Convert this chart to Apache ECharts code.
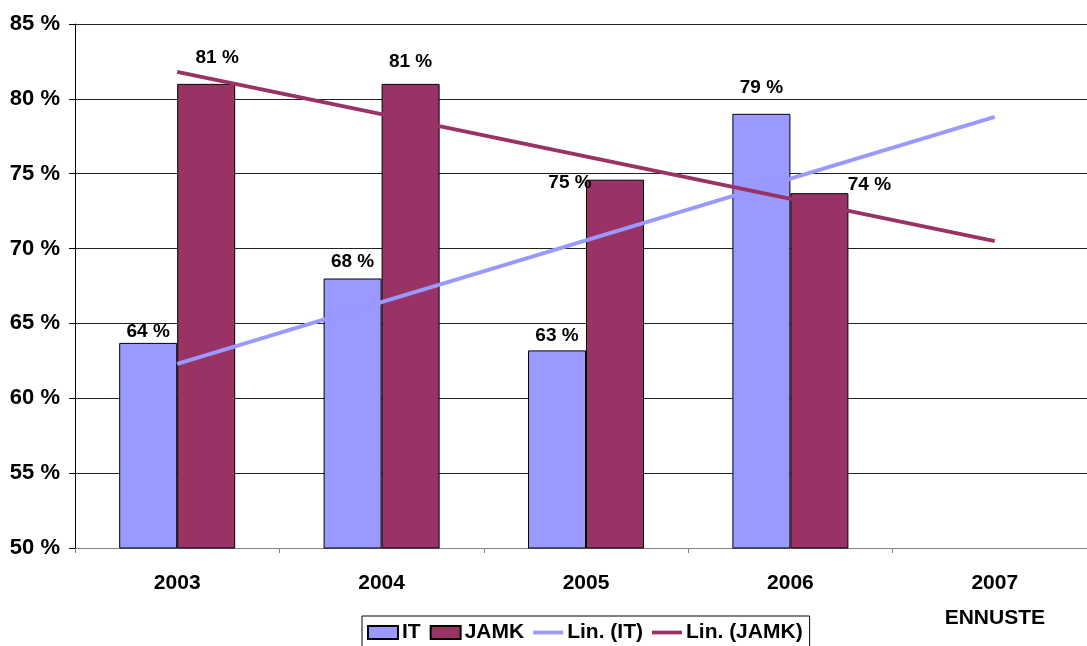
<!DOCTYPE html>
<html>
<head>
<meta charset="utf-8">
<script src="https://cdn.jsdelivr.net/npm/echarts@6/dist/echarts.min.js"></script>
<style>
html,body{margin:0;padding:0;background:#fff;overflow:hidden;width:1087px;height:646px;}
#chart{width:1100px;height:646px;}
</style>
</head>
<body>
<div id="chart"></div>
<script>
const categories = ['2003', '2004', '2005', '2006', '2007\nENNUSTE'];
const itValues = [63.7, 68.0, 63.2, 79.0, null];
const jamkValues = [81.0, 81.0, 74.6, 73.7, null];
const itTrend = [62.3, null, null, null, 78.8];
const jamkTrend = [81.8, null, null, null, 70.5];
const yTicks = { min: 50, max: 85, interval: 5 };

// label placement tweaks (style, not data)
const itLabelOffsets = [[0, 0], [0, -5], [0, -3], [0, -15], [0, 0]];
const jamkLabelOffsets = [[11, -15], [0, -11], [-45, 15], [50, 3], [0, 0]];

const FONT = "'Liberation Sans', Arial, sans-serif";
const IT_COLOR = '#9999FF';
const JAMK_COLOR = '#993366';

function barData(values, offsets) {
  return values.map((v, i) => ({
    value: v,
    label: { offset: offsets[i] }
  }));
}

const labelStyle = {
  show: true,
  position: 'top',
  distance: 2,
  fontFamily: FONT,
  fontWeight: 'bold',
  fontSize: 19,
  color: '#000',
  formatter: p => (p.value == null ? '' : Math.round(p.value) + ' %')
};

const lineIcon = 'path://M0,0 L32,0 L32,4 L0,4 Z';

const chart = echarts.init(document.getElementById('chart'), null, { renderer: 'canvas' });
chart.setOption({
  animation: false,
  backgroundColor: '#fff',
  grid: { left: 75, top: 24, width: 1022, height: 524, containLabel: false },
  xAxis: {
    type: 'category',
    data: categories,
    axisLine: { show: true, lineStyle: { color: '#808080', width: 1 } },
    axisTick: { show: true, length: 5, lineStyle: { color: '#808080' } },
    axisLabel: {
      fontFamily: FONT, fontWeight: 'bold', fontSize: 21, color: '#000',
      margin: 18, lineHeight: 35
    }
  },
  yAxis: {
    type: 'value',
    min: yTicks.min, max: yTicks.max, interval: yTicks.interval,
    axisLine: { show: true, lineStyle: { color: '#000', width: 1 } },
    axisTick: { show: true, length: 6, lineStyle: { color: '#000' } },
    splitLine: { show: true, lineStyle: { color: '#222', width: 1 } },
    axisLabel: {
      fontFamily: FONT, fontWeight: 'bold', fontSize: 22, color: '#000',
      margin: 15, formatter: '{value} %'
    }
  },
  legend: {
    left: 362, top: 616,
    orient: 'horizontal',
    borderColor: '#000', borderWidth: 1,
    padding: [6, 7, 6, 5],
    itemGap: 9,
    itemWidth: 30, itemHeight: 13,
    textStyle: { fontFamily: FONT, fontWeight: 'bold', fontSize: 21, color: '#000', padding: [0, 0, 0, -1] },
    data: [
      { name: 'IT', icon: 'rect' },
      { name: 'JAMK', icon: 'rect' },
      { name: 'Lin. (IT)', icon: lineIcon },
      { name: 'Lin. (JAMK)', icon: lineIcon }
    ]
  },
  series: [
    {
      name: 'IT', type: 'bar', data: barData(itValues, itLabelOffsets),
      barWidth: 58, barGap: '0%',
      itemStyle: { color: IT_COLOR, borderColor: '#000', borderWidth: 1 },
      label: labelStyle, z: 2
    },
    {
      name: 'JAMK', type: 'bar', data: barData(jamkValues, jamkLabelOffsets),
      barWidth: 58, barGap: '0%',
      itemStyle: { color: JAMK_COLOR, borderColor: '#000', borderWidth: 1 },
      label: labelStyle, z: 2
    },
    {
      name: 'Lin. (IT)', type: 'line', data: itTrend, connectNulls: true,
      symbol: 'none', lineStyle: { color: IT_COLOR, width: 4 },
      itemStyle: { color: IT_COLOR }, z: 5
    },
    {
      name: 'Lin. (JAMK)', type: 'line', data: jamkTrend, connectNulls: true,
      symbol: 'none', lineStyle: { color: JAMK_COLOR, width: 4 },
      itemStyle: { color: JAMK_COLOR }, z: 5
    }
  ]
});
</script>
</body>
</html>
